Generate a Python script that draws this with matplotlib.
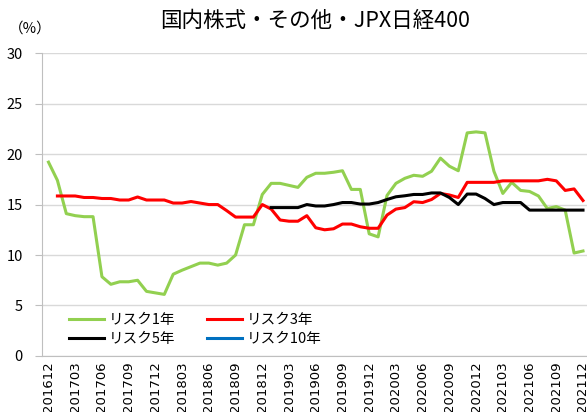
import numpy as np
import pandas as pd
import matplotlib

matplotlib.use("Agg")
import matplotlib.pyplot as plt

plt.rcParams["font.family"] = ["Noto Sans CJK JP", "DejaVu Sans"]

months = [p.strftime("%Y%m") for p in pd.period_range("2016-12", "2021-12", freq="M")]

risk1 = [19.2, 17.4, 14.1, 13.9, 13.8, 13.8, 7.85, 7.1, 7.35, 7.35,
         7.5, 6.4, 6.25, 6.1, 8.1, 8.5, 8.85, 9.2, 9.2, 9.0,
         9.2, 10.0, 13.0, 13.0, 16.0, 17.1, 17.1, 16.9, 16.7, 17.7,
         18.1, 18.1, 18.2, 18.35, 16.5, 16.5, 12.1, 11.8, 15.9, 17.1,
         17.6, 17.9, 17.8, 18.3, 19.6, 18.8, 18.35, 22.1, 22.2, 22.1,
         18.3, 16.1, 17.2, 16.4, 16.3, 15.85, 14.6, 14.8, 14.45, 10.2,
         10.4]
risk3 = [np.nan, 15.85, 15.85, 15.85, 15.7, 15.7, 15.6, 15.6, 15.45, 15.45,
         15.75, 15.45, 15.45, 15.45, 15.15, 15.15, 15.3, 15.15, 15.0, 15.0,
         14.4, 13.76, 13.76, 13.76, 15.0, 14.55, 13.47, 13.35, 13.35, 13.9,
         12.7, 12.5, 12.6, 13.07, 13.07, 12.8, 12.65, 12.65, 13.96, 14.55,
         14.7, 15.28, 15.2, 15.5, 16.1, 15.95, 15.7, 17.2, 17.2, 17.2,
         17.2, 17.35, 17.35, 17.35, 17.35, 17.35, 17.5, 17.35, 16.4, 16.55,
         15.4]
risk5 = [np.nan] * 25 + [
         14.7, 14.7, 14.7, 14.7, 15.0,
         14.86, 14.86, 15.0, 15.2, 15.2, 15.05, 15.05, 15.2, 15.5, 15.77,
         15.87, 16.0, 16.0, 16.15, 16.15, 15.7, 15.0, 16.04, 16.04, 15.6,
         15.0, 15.2, 15.2, 15.2, 14.45, 14.45, 14.45, 14.45, 14.45, 14.45,
         14.45]
risk10 = [np.nan] * len(months)

x = np.arange(len(months))

fig = plt.figure(figsize=(5.87, 4.12), dpi=100)
ax = fig.add_axes([0.072, 0.136, 0.928, 0.735])

l1, = ax.plot(x, risk1, color="#92D050", lw=2.2, label="リスク1年")
l3, = ax.plot(x, risk3, color="#FF0000", lw=2.2, label="リスク3年")
l5, = ax.plot(x, risk5, color="#000000", lw=2.2, label="リスク5年")
l10, = ax.plot(x, risk10, color="#0070C0", lw=2.2, label="リスク10年")

ax.set_xlim(-0.7, 60.45)
ax.set_ylim(0, 30)
ax.set_yticks(range(0, 31, 5))
ax.yaxis.grid(True, color="#D9D9D9", lw=1)
ax.set_axisbelow(True)

ticks = x[::3]
ax.set_xticks(ticks)
ax.set_xticklabels([months[i] for i in ticks], rotation=90, fontsize=9.5,
                   family=["DejaVu Sans"])
ax.tick_params(axis="x", length=0, pad=4)
ax.tick_params(axis="y", labelsize=10.5, length=5, color="#BFBFBF", pad=9)

for s in ["top", "right"]:
    ax.spines[s].set_visible(False)
for s in ["left", "bottom"]:
    ax.spines[s].set_color("#BFBFBF")

fig.text(0.537, 0.95, "国内株式・その他・JPX日経400", ha="center", va="center", fontsize=15.5)
fig.text(0.051, 0.93, "（%）", ha="center", va="center", fontsize=10.5)

handles = [l1, l5, l3, l10]
ax.legend(handles, [h.get_label() for h in handles],
          loc="lower left", bbox_to_anchor=(0.025, -0.01), ncol=2, frameon=False,
          fontsize=10.5, handlelength=2.4, columnspacing=2.2, labelspacing=0.3,
          handletextpad=0.3)

fig.savefig("out.png", dpi=100)
